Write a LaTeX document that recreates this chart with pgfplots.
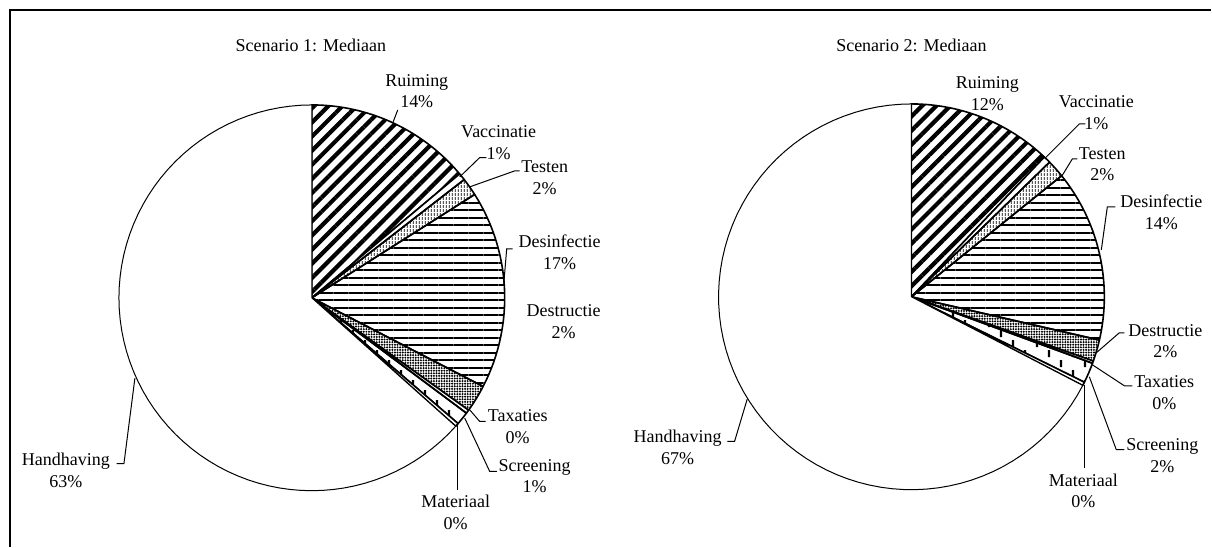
\documentclass[border=0pt]{standalone}
\usepackage{fontspec}
\setmainfont{Liberation Serif}
\usepackage{pgfplots}
\usepackage{pgfplotstable}
\pgfplotsset{compat=1.18}
\usetikzlibrary{patterns.meta}

% staggered short vertical strokes (Screening)
\tikzdeclarepattern{
  name=vticks,
  type=uncolored,
  bottom left={(0pt,0pt)},
  top right={(12pt,10pt)},
  tile size={(12pt,10pt)},
  code={
    \pgfsetlinewidth{1.1pt}
    \pgfpathmoveto{\pgfpoint{3pt}{0.5pt}}
    \pgfpathlineto{\pgfpoint{3pt}{4pt}}
    \pgfpathmoveto{\pgfpoint{9pt}{5.5pt}}
    \pgfpathlineto{\pgfpoint{9pt}{9pt}}
    \pgfusepath{stroke}
  }
}

% fine broken vertical strokes (Testen)
\tikzdeclarepattern{
  name=vdashes,
  type=uncolored,
  bottom left={(0pt,0pt)},
  top right={(1.6pt,2pt)},
  tile size={(1.6pt,2pt)},
  code={
    \pgfsetlinewidth{0.5pt}
    \pgfpathmoveto{\pgfpoint{0.8pt}{0pt}}
    \pgfpathlineto{\pgfpoint{0.8pt}{1.4pt}}
    \pgfusepath{stroke}
  }
}

% cost shares (%), clockwise from twelve o'clock
\pgfplotstableread{
name        value
Ruiming     13.9
Vaccinatie  0.6
Testen      1.5
Desinfectie 16.6
Destructie  2.3
Taxaties    0.3
Screening   1.1
Materiaal   0.3
Handhaving  63.4
}\scenarioone

\pgfplotstableread{
name        value
Ruiming     12.1
Vaccinatie  0.6
Testen      1.5
Desinfectie 14.4
Destructie  1.8
Taxaties    0.2
Screening   1.7
Materiaal   0.3
Handhaving  67.4
}\scenariotwo

\pgfplotsset{
  wedge/.style={draw=black, line width=0.8pt, line join=round},
  slice0/.style={wedge, pattern={Lines[angle=45, distance=5pt, line width=2.1pt]}},
  slice1/.style={wedge, fill=white},
  slice2/.style={wedge, pattern=vdashes},
  slice3/.style={wedge, pattern={Lines[angle=0, distance=3.75pt, line width=1pt]}},
  slice4/.style={wedge, pattern={Dots[distance=1.3pt, radius=0.55pt]}},
  slice5/.style={wedge, fill=white},
  slice6/.style={wedge, pattern=vticks},
  slice7/.style={wedge, fill=white},
  slice8/.style={draw=black, line width=0.5pt, line join=round, fill=white},
}

% one pie: table, centre x, centre y (radius 193)
\newcommand\drawpie[3]{%
  \def\cum{0}%
  \pgfplotsforeachungrouped \i in {0,...,8}{%
    \pgfplotstablegetelem{\i}{value}\of{#1}%
    \pgfmathsetmacro\startangle{3.6*\cum}%
    \pgfmathsetmacro\cum{\cum+\pgfplotsretval}%
    \pgfmathsetmacro\stopangle{3.6*\cum}%
    \edef\piewedge{\noexpand\addplot[slice\i, domain=\startangle:\stopangle,
        samples=72, variable=\noexpand\t]
      ({#2+193*sin(\noexpand\t)}, {#3-193*cos(\noexpand\t)}) -- (axis cs:#2,#3) -- cycle;}%
    \piewedge
  }%
}

% label: x, baseline of first line, name, share
\newcommand\slicelabel[4]{%
  \node[anchor=base, inner sep=0pt] at (axis cs:#1,#2) {#3};
  \node[anchor=base, inner sep=0pt, yshift=-10.75pt] at (axis cs:#1,#2) {#4};
}

\begin{document}
\begin{tikzpicture}[every node/.style={font=\fontsize{9}{11}\selectfont}]
\begin{axis}[
  x=0.5pt, y=0.5pt,
  xmin=0, xmax=1212, ymin=0, ymax=547,
  y dir=reverse,
  hide axis, clip=false, no markers,
]
\path (axis cs:0,0) rectangle (axis cs:1212,547);
\draw[line width=0.75pt] (axis cs:10,547) -- (axis cs:10,10) -- (axis cs:1212,10);

% ---- Scenario 1
\drawpie{\scenarioone}{312}{298}
\node[anchor=base, inner sep=0pt] at (axis cs:311,52) {Scenario 1: Mediaan};
\slicelabel{417}{86.5}{Ruiming}{14\%}
\slicelabel{499}{138}{Vaccinatie}{1\%}
\slicelabel{545}{173}{Testen}{2\%}
\slicelabel{560}{248}{Desinfectie}{17\%}
\slicelabel{564}{317}{Destructie}{2\%}
\slicelabel{518}{422}{Taxaties}{0\%}
\slicelabel{535}{471.5}{Screening}{1\%}
\slicelabel{456}{508}{Materiaal}{0\%}
\slicelabel{66}{466}{Handhaving}{63\%}
\begin{scope}[line width=0.5pt]
\draw (axis cs:393,123) -- (axis cs:398,110);
\draw (axis cs:460,177) -- (axis cs:480,157.7) -- (axis cs:486.7,157.7);
\draw (axis cs:470,187) -- (axis cs:515,171) -- (axis cs:520,171);
\draw (axis cs:504,285) -- (axis cs:507,249) -- (axis cs:513,249);
\draw (axis cs:469.3,409.3) -- (axis cs:480,421.7) -- (axis cs:486,421.7);
\draw (axis cs:465,418.3) -- (axis cs:490,471.7) -- (axis cs:497.3,471.7);
\draw (axis cs:457.3,425) -- (axis cs:457.3,490);
\draw (axis cs:135,378.3) -- (axis cs:124,464) -- (axis cs:116.7,464);
\end{scope}

% ---- Scenario 2
\drawpie{\scenariotwo}{912}{297}
\node[anchor=base, inner sep=0pt] at (axis cs:912,52) {Scenario 2: Mediaan};
\slicelabel{988}{89}{Ruiming}{12\%}
\slicelabel{1097}{108}{Vaccinatie}{1\%}
\slicelabel{1103}{159.5}{Testen}{2\%}
\slicelabel{1162}{208}{Desinfectie}{14\%}
\slicelabel{1166}{336.5}{Destructie}{2\%}
\slicelabel{1165}{388}{Taxaties}{0\%}
\slicelabel{1163}{451}{Screening}{2\%}
\slicelabel{1084}{486.5}{Materiaal}{0\%}
\slicelabel{678}{443}{Handhaving}{67\%}
\begin{scope}[line width=0.5pt]
\draw (axis cs:1046,158) -- (axis cs:1080,124) -- (axis cs:1086,124);
\draw (axis cs:1062,177) -- (axis cs:1073,159) -- (axis cs:1078,159);
\draw (axis cs:1102,250) -- (axis cs:1108,207) -- (axis cs:1116,207);
\draw (axis cs:1097,353) -- (axis cs:1120,333) -- (axis cs:1125,333);
\draw (axis cs:1093,365) -- (axis cs:1125,386) -- (axis cs:1133,386);
\draw (axis cs:1090,377) -- (axis cs:1117,450) -- (axis cs:1125,450);
\draw (axis cs:1085,385) -- (axis cs:1085,468);
\draw (axis cs:747.7,399.3) -- (axis cs:735,441.7) -- (axis cs:727.7,441.7);
\end{scope}
\end{axis}
\end{tikzpicture}
\end{document}
